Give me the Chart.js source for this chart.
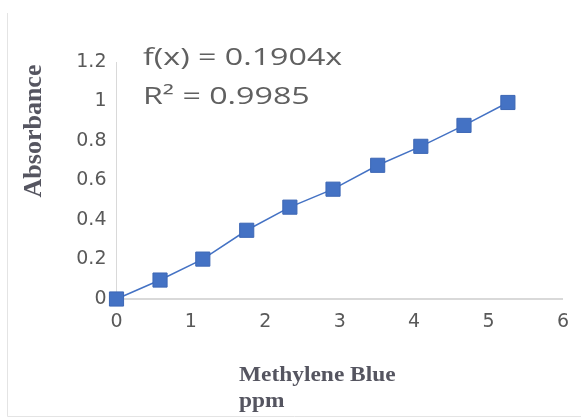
<!DOCTYPE html>
<html lang="en">
<head>
  <meta charset="UTF-8" />
  <title>Absorbance vs Methylene Blue</title>
  <script src="https://cdn.jsdelivr.net/npm/chart.js"></script>
  <style>
    html, body { margin: 0; padding: 0; background: #fff; }
    #wrap { position: relative; width: 581px; height: 418px; }
  </style>
</head>
<body>
  <div id="wrap"><canvas id="chart" width="581" height="418"></canvas></div>

  <script>
    // data
    const ppm = [0, 0.585, 1.16, 1.75, 2.33, 2.91, 3.51, 4.09, 4.67, 5.26];
    const absorbance = [0, 0.096, 0.202, 0.348, 0.465, 0.556, 0.677, 0.773, 0.879, 0.995];
    const xTicks = [0, 1, 2, 3, 4, 5, 6];
    const yTicks = [0, 0.2, 0.4, 0.6, 0.8, 1, 1.2];
    const fitLines = ['f(x) = 0.1904x', 'R\u00b2 = 0.9985'];
    const xTitle = ['Methylene Blue', 'ppm'];
    const yTitle = 'Absorbance';

    const grey = '#595959';
    const blue = '#4472c4';

    // frame, axis titles and the trend text
    const extras = {
      id: 'extras',
      beforeDraw(chart) {
        const ctx = chart.ctx;
        ctx.save();
        ctx.strokeStyle = '#e4e4e4';
        ctx.lineWidth = 1;
        ctx.beginPath();
        ctx.moveTo(7.5, 13);
        ctx.lineTo(7.5, 416.5);
        ctx.lineTo(581, 416.5);
        ctx.stroke();
        ctx.restore();
      },
      afterDraw(chart) {
        const ctx = chart.ctx;
        ctx.save();
        ctx.fillStyle = '#606060';
        ctx.textBaseline = 'alphabetic';
        ctx.textAlign = 'left';
        ctx.font = '23px "Open Sans"';
        fitLines.forEach((t, i) => {
          ctx.save();
          ctx.translate(143, 65 + i * 39);
          ctx.scale(1.4, 1);
          ctx.fillText(t, 0, 0);
          ctx.restore();
        });

        ctx.font = 'bold 20px "Liberation Serif"';
        ctx.fillStyle = '#555560';
        xTitle.forEach((t, i) => {
          ctx.save();
          ctx.translate(239, 381 + i * 26);
          ctx.scale(1.17, 1);
          ctx.fillText(t, 0, 0);
          ctx.restore();
        });

        ctx.save();
        ctx.translate(41, 131);
        ctx.rotate(-Math.PI / 2);
        ctx.textAlign = 'center';
        ctx.font = 'bold 26px "Liberation Serif"';
        ctx.fillText(yTitle, 0, 0);
        ctx.restore();
        ctx.restore();
      }
    };

    new Chart(document.getElementById('chart'), {
      type: 'scatter',
      data: {
        datasets: [{
          data: ppm.map((x, i) => ({ x: x, y: absorbance[i] })),
          showLine: true,
          clip: false,
          borderColor: blue,
          borderWidth: 1.5,
          backgroundColor: blue,
          pointStyle: 'rect',
          pointRadius: 10,
          pointHoverRadius: 10,
          pointBorderColor: '#3d67b5',
          pointBorderWidth: 1
        }]
      },
      options: {
        responsive: false,
        animation: false,
        events: [],
        layout: { padding: { top: 62, right: 18, left: 0, bottom: 0 } },
        plugins: {
          legend: { display: false },
          tooltip: { enabled: false }
        },
        scales: {
          x: {
            type: 'linear',
            min: 0,
            max: 6,
            afterFit: s => { s.height = 119; },
            afterBuildTicks: s => { s.ticks = xTicks.map(v => ({ value: v })); },
            grid: { display: false, drawTicks: false },
            border: { display: true, color: '#d9d9d9', width: 2 },
            ticks: {
              padding: 12, color: grey,
              font: { family: 'DejaVu Sans', size: 19 },
              callback: v => String(v)
            }
          },
          y: {
            min: 0,
            max: 1.2,
            afterFit: s => { s.width = 116.5; },
            afterBuildTicks: s => { s.ticks = yTicks.map(v => ({ value: v })); },
            grid: { display: false, drawTicks: false },
            border: { display: true, color: '#d9d9d9', width: 1 },
            ticks: {
              padding: 10, color: grey,
              font: { family: 'DejaVu Sans', size: 19 },
              callback: v => String(v)
            }
          }
        }
      },
      plugins: [extras]
    });
  </script>
</body>
</html>
